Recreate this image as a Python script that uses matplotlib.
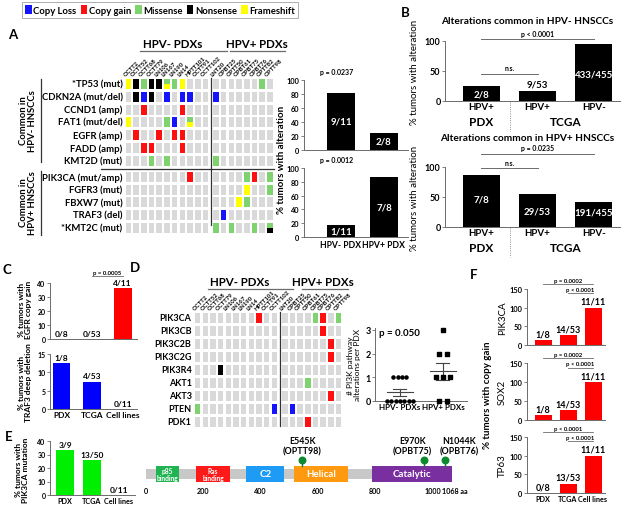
import matplotlib
matplotlib.use('Agg')
import matplotlib.pyplot as plt
import numpy as np
from matplotlib.patches import Rectangle, Patch

plt.rcParams['font.family'] = ['Lato', 'DejaVu Sans']
plt.rcParams['font.weight'] = 'bold'
plt.rcParams['axes.linewidth'] = 0.7
W, H = 625, 510

# ------------------------------------------------------------------ data
legend_labels = ["Copy Loss", "Copy gain", "Missense", "Nonsense", "Frameshift"]
legend_codes = ["L", "G", "M", "N", "F"]
code_colors = {'L': '#1414ff', 'G': '#ff1010', 'M': '#7ed36e', 'N': '#000000',
               'F': '#ffff00', '.': '#d9d9d9'}

hpvneg_pdx = ["OCTT2", "OCTT52", "OCTT68", "OCTT79", "LN106", "LN167", "LN190",
              "LN14", "HPTT101", "OCTT91", "OCTT102"]
hpvpos_pdx = ["LNT20", "OPBT25", "OPTT50", "OPBT61", "OPBT75", "OPBT76",
              "OPTT82", "OPTT98"]

genes_A = ["*TP53 (mut)", "CDKN2A (mut/del)", "CCND1 (amp)", "FAT1 (mut/del)",
           "EGFR (amp)", "FADD (amp)", "KMT2D (mut)", "PIK3CA (mut/amp)",
           "FGFR3 (mut)", "FBXW7 (mut)", "TRAF3 (del)", "*KMT2C (mut)"]
grid_A = [
    "F N M N N MF M F . . .  . . . . . . M .",
    ". N L N . L . L L . .  L . . . . . . .",
    ". . G . . . . G . . .  . . . . . . . .",
    "F . . . . M L . MF . .  . . . . . . . .",
    ". G . . G . G G . . .  . . . . . . . .",
    ". . G G . . . G . . .  . . . . . . . .",
    ". . . M . M . . . . .  M . . . . . . .",
    ". . . . . . . . G . .  . . . . M G . M",
    ". . . . . . . . . . .  . . . . F . . M",
    ". . . . . . . . . . .  . . . F M . . .",
    ". . . . . . . . . . .  . L . . . . . .",
    ". . . . . . . . . . .  M . M . . M . MN",
]

A_groups = ["HPV- PDX", "HPV+ PDX"]
A_top_vals = [81.8, 25.0]
A_top_labels = ["9/11", "2/8"]
A_top_p = "p = 0.0237"
A_bot_vals = [18.0, 87.5]
A_bot_labels = ["1/11", "7/8"]
A_bot_p = "p = 0.0012"

B_groups = ["HPV+", "HPV+", "HPV-"]
B_top_vals = [25.0, 17.0, 95.2]
B_top_labels = ["2/8", "9/53", "433/455"]
B_bot_vals = [87.5, 54.7, 42.0]
B_bot_labels = ["7/8", "29/53", "191/455"]

C_groups = ["PDX", "TCGA", "Cell lines"]
C_egfr_vals = [0.0, 0.0, 36.4]
C_egfr_labels = ["0/8", "0/53", "4/11"]
C_traf3_vals = [12.5, 7.5, 0.0]
C_traf3_labels = ["1/8", "4/53", "0/11"]

genes_D = ["PIK3CA", "PIK3CB", "PIK3C2B", "PIK3C2G", "PIK3R4", "AKT1", "AKT3",
           "PTEN", "PDK1"]
grid_D = [
    ". . . . . . . . G . .  . . . . M G . M",
    ". . . . . . . . . . .  . . . . . G . .",
    ". . . . . . . . . . .  . . . . . . G .",
    ". . . . . . . . . . .  . . . . . . G .",
    ". . . N . . . . . . .  . . . . . . . .",
    ". . . . . . . . . . .  . . . M . . . .",
    ". . . . . . . . . . .  . . . . . . G .",
    "M . . . . . . . . . L  . L . . . . . .",
    ". . . . . . . . . . .  . . . G . . . .",
]
D_groups = ["HPV- PDXs", "HPV+ PDXs"]
D_neg_counts = [1, 0, 0, 1, 0, 0, 0, 0, 1, 0, 1]
D_pos_counts = [0, 1, 0, 2, 1, 2, 3, 1]
D_p = "p = 0.050"

E_groups = ["PDX", "TCGA", "Cell lines"]
E_vals = [33.3, 26.0, 0.0]
E_labels = ["3/9", "13/50", "0/11"]

domain_names = ["p85\nbinding", "Ras\nbinding", "C2", "Helical", "Catalytic"]
domain_start = [35, 175, 350, 517, 790]
domain_end = [115, 293, 482, 705, 1068]
domain_colors = ['#1fb451', '#ff1a1a', '#1e9cf5', '#ff9a10', '#7a2fa0']
protein_len = 1068
mut_pos = [545, 970, 1044]
mut_labels = ["E545K\n(OPTT98)", "E970K\n(OPBT75)", "N1044K\n(OPBT76)"]
aa_ticks = [0, 200, 400, 600, 800, 1000]

F_groups = ["PDX", "TCGA", "Cell lines"]
F_genes = ["PIK3CA", "SOX2", "TP63"]
F_vals = [[12.5, 26.4, 100.0], [12.5, 26.4, 100.0], [0.0, 24.5, 100.0]]
F_labels = [["1/8", "14/53", "11/11"], ["1/8", "14/53", "11/11"],
            ["0/8", "13/53", "11/11"]]
F_p_outer = ["p = 0.0002", "p = 0.0002", "p < 0.0001"]
F_p_inner = ["p < 0.0001", "p < 0.0001", "p < 0.0001"]

# ------------------------------------------------------------------ helpers
fig = plt.figure(figsize=(W / 100, H / 100), dpi=100)
fig.patch.set_facecolor('white')


def rect(x0, y0, x1, y1):
    return [x0 / W, 1 - y1 / H, (x1 - x0) / W, (y1 - y0) / H]


ov = fig.add_axes([0, 0, 1, 1], zorder=10)
ov.set_xlim(0, W)
ov.set_ylim(H, 0)
ov.axis('off')
ov.patch.set_alpha(0)

LINE = '#6b6b6b'


def txt(x, y, s, **kw):
    kw.setdefault('ha', 'center')
    kw.setdefault('va', 'center')
    kw.setdefault('fontsize', 7)
    ov.text(x, y, s, **kw)


def bar_axes(px, xlim, ylim, yticks, tick_fs=5.3):
    ax = fig.add_axes(rect(*px))
    ax.set_xlim(*xlim)
    ax.set_ylim(*ylim)
    ax.set_yticks(yticks)
    for s in ['top', 'right']:
        ax.spines[s].set_visible(False)
    for s in ['left', 'bottom']:
        ax.spines[s].set_color(LINE)
    ax.tick_params(axis='both', labelsize=tick_fs, length=2, width=0.6,
                   color=LINE, pad=1.2)
    ax.patch.set_alpha(0)
    return ax


def draw_grid(ax, grid, colpos, rowpos, w=0.72, h=0.78):
    for r, rowstr in enumerate(grid):
        cells = rowstr.split()
        for c, code in enumerate(cells):
            x = colpos[c] - w / 2
            y = rowpos[r] - h / 2
            if len(code) == 1:
                ax.add_patch(Rectangle((x, y), w, h, facecolor=code_colors[code],
                                       edgecolor='none'))
            else:
                ax.add_patch(Rectangle((x, y), w, h / 2,
                                       facecolor=code_colors[code[0]], edgecolor='none'))
                ax.add_patch(Rectangle((x, y + h / 2), w, h / 2,
                                       facecolor=code_colors[code[1]], edgecolor='none'))


def grid_axes(x0, x1, y0, y1, c0px, du, r0px, dv):
    ax = fig.add_axes(rect(x0, y0, x1, y1))
    ax.set_xlim((x0 - c0px) / du, (x1 - c0px) / du)
    ax.set_ylim((y1 - r0px) / dv, (y0 - r0px) / dv)
    ax.axis('off')
    return ax


# ------------------------------------------------------------------ legend
handles = [Patch(facecolor=code_colors[c], edgecolor='none') for c in legend_codes]
leg = fig.legend(handles, legend_labels, ncol=5, loc='center',
                 bbox_to_anchor=(160 / W, 1 - 11 / H), fontsize=6.8,
                 handlelength=0.7, handleheight=1.1, handletextpad=0.15,
                 columnspacing=0.45, frameon=True, fancybox=False,
                 borderpad=0.35, borderaxespad=0)
leg.get_frame().set_edgecolor('#9a9a9a')
leg.get_frame().set_linewidth(0.7)

# ------------------------------------------------------------------ panel A grid
pdx_all = hpvneg_pdx + hpvpos_pdx
nneg = len(hpvneg_pdx)
colpos = [i + (0.35 if i >= nneg else 0) for i in range(len(pdx_all))]
rowposA = [r + (0.27 if r >= 7 else 0) for r in range(len(genes_A))]
axg = grid_axes(20, 290, 50, 240, 128.3, 7.72, 85, 12.78)
draw_grid(axg, grid_A, colpos, rowposA)
for r, g in enumerate(genes_A):
    axg.text(-0.75, rowposA[r], g, ha='right', va='center', fontsize=6.8)
for c, name in enumerate(pdx_all):
    axg.text(colpos[c] - 0.3, -0.55, name, rotation=45, ha='left', va='bottom',
             rotation_mode='anchor', fontsize=4.3)
sepx = (colpos[nneg - 1] + colpos[nneg]) / 2
axg.plot([sepx, sepx], [-0.45, rowposA[-1] - 0.2], color='#333', lw=0.9)
sepy = (rowposA[6] + rowposA[7]) / 2
axg.plot([-3.6, colpos[-1] + 0.5], [sepy, sepy], color='#333', lw=0.9)

txt(173, 45, "HPV- PDXs", fontsize=8.3)
ov.plot([140, 227], [52, 52], color=LINE, lw=0.9)
txt(257, 45, "HPV+ PDXs", fontsize=8.3)
ov.plot([230, 285], [52, 52], color=LINE, lw=0.9)
ov.plot([41, 41], [80, 163], color='#333', lw=0.9)
ov.plot([41, 41], [172, 236], color='#333', lw=0.9)
txt(28, 121, "Common in\nHPV- HNSCCs", rotation=90, fontsize=6.8, linespacing=1.1)
txt(28, 203, "Common in\nHPV+ HNSCCs", rotation=90, fontsize=6.8, linespacing=1.1)
txt(13, 35, "A", fontsize=9.5)

# ------------------------------------------------------------------ panel A bars
for px, vals, labs, ptxt, xlab in [((304, 81, 408, 151), A_top_vals, A_top_labels, A_top_p, False),
                                   ((304, 169, 408, 238), A_bot_vals, A_bot_labels, A_bot_p, True)]:
    ax = bar_axes(px, (-0.86, 1.56), (0, 100), [0, 20, 40, 60, 80, 100])
    x = np.arange(len(vals))
    ax.bar(x, vals, width=0.65, color='black')
    for xi, v, l in zip(x, vals, labs):
        ax.text(xi, v * 0.5, l, color='white', ha='center', va='center', fontsize=7)
    ax.set_xticks(x)
    if xlab:
        ax.set_xticklabels(A_groups, fontsize=6.2)
        ax.tick_params(axis='x', length=0, pad=2)
    else:
        ax.set_xticklabels([])
        ax.tick_params(axis='x', length=0)
    ax.text(-0.1, 1.12, ptxt, transform=ax.get_xaxis_transform(), ha='center',
            va='center', fontsize=5)
txt(281, 160, "% tumors with alteration", rotation=90, fontsize=7)

# ------------------------------------------------------------------ panel B
txt(405, 13, "B", fontsize=9.5)
for (px, vals, labs, title, ty, plong, pshort, labpos, lab_white, py_long, py_short) in [
        ((445, 42, 620, 102), B_top_vals, B_top_labels,
         "Alterations common in HPV- HNSCCs", 22, "p < 0.0001", "n.s.",
         [12, 28, 45], [True, False, True], 103, 45),
        ((445, 168, 620, 228), B_bot_vals, B_bot_labels,
         "Alterations common in HPV+ HNSCCs", 139, "p = 0.0235", "n.s.",
         [47, 27, 25], [True, True, True], 122, 98)]:
    ax = bar_axes(px, (-0.65, 2.47), (0, 100), [0, 50, 100], tick_fs=6.5)
    x = np.arange(len(vals))
    ax.bar(x, vals, width=0.66, color='black')
    for xi, l, yp, wh in zip(x, labs, labpos, lab_white):
        ax.text(xi, yp, l, color='white' if wh else 'black', ha='center',
                va='center', fontsize=7)
    ax.set_xticks(x)
    ax.set_xticklabels(B_groups, fontsize=7)
    ax.tick_params(axis='x', length=0, pad=1)
    ax.plot([x[0], x[2]], [py_long, py_long], color=LINE, lw=0.7, clip_on=False)
    ax.text((x[0] + x[2]) / 2, py_long + 10, plong, ha='center', va='center',
            fontsize=5)
    ax.plot([x[0], x[1]], [py_short, py_short], color=LINE, lw=0.7, clip_on=False)
    ax.text((x[0] + x[1]) / 2, py_short + 10, pshort, ha='center', va='center',
            fontsize=5)
    tr = ax.get_xaxis_transform()
    ax.plot([0.5, 0.5], [-0.02, -0.5], color=LINE, lw=0.6, ls=':',
            transform=tr, clip_on=False)
    ax.text(0, -0.35, "PDX", transform=tr, ha='center', va='center', fontsize=8.5)
    ax.text(1.5, -0.35, "TCGA", transform=tr, ha='center', va='center', fontsize=8.5)
    txt(527, ty, title, fontsize=7.3)
    ax.set_ylabel("% tumors with alteration", fontsize=7, labelpad=4)

# ------------------------------------------------------------------ panel C
txt(7, 270, "C", fontsize=9.5)
axc1 = bar_axes((50, 284, 137, 340), (-0.38, 2.47), (0, 40), [0, 10, 20, 30, 40], tick_fs=5)
x = np.arange(3)
axc1.bar(x, C_egfr_vals, width=0.58, color='#ff0000')
for xi, v, l in zip(x, C_egfr_vals, C_egfr_labels):
    axc1.text(xi, v + 1.5, l, ha='center', va='bottom', fontsize=6)
axc1.set_xticks(x)
axc1.set_xticklabels([])
axc1.tick_params(axis='x', length=0)
axc1.plot([1, 2], [45, 45], color=LINE, lw=0.6, clip_on=False)
axc1.text(1.5, 46, "p = 0.0005", ha='center', va='bottom', fontsize=4.3)

axc2 = bar_axes((50, 355, 137, 410), (-0.38, 2.47), (0, 15), [0, 5, 10, 15], tick_fs=5)
axc2.bar(x, C_traf3_vals, width=0.58, color='#0000ff')
for xi, v, l in zip(x, C_traf3_vals, C_traf3_labels):
    axc2.text(xi, v + 0.6, l, ha='center', va='bottom', fontsize=6)
axc2.set_xticks(x)
axc2.set_xticklabels(C_groups, fontsize=6)
axc2.tick_params(axis='x', length=0)
txt(25, 310, "% tumors with\nEGFR copy gain", rotation=90, fontsize=6, linespacing=1.05)
txt(25, 383, "% tumors with\nTRAF3 deep deletion", rotation=90, fontsize=6, linespacing=1.05)

# ------------------------------------------------------------------ panel D grid
txt(135, 268, "D", fontsize=9.5)
rowposD = list(range(len(genes_D)))
axd = grid_axes(140, 350, 290, 432, 197.7, 7.67, 319, 13.0)
draw_grid(axd, grid_D, colpos, rowposD, w=0.72, h=0.74)
for r, g in enumerate(genes_D):
    axd.text(-0.8, rowposD[r], g, ha='right', va='center', fontsize=6.5)
for c, name in enumerate(pdx_all):
    axd.text(colpos[c] - 0.3, -0.55, name, rotation=45, ha='left', va='bottom',
             rotation_mode='anchor', fontsize=4.3)
axd.plot([sepx, sepx], [-0.5, rowposD[-1] + 0.3], color='#333', lw=0.9)
txt(240, 283, "HPV- PDXs", fontsize=8.3)
ov.plot([208, 293], [290, 290], color=LINE, lw=0.9)
txt(323, 283, "HPV+ PDXs", fontsize=8.3)
ov.plot([302, 348], [290, 290], color=LINE, lw=0.9)

# ------------------------------------------------------------------ panel D scatter
axs = bar_axes((375, 328.6, 467, 402), (-0.58, 1.56), (0, 3.1), [0, 1, 2, 3], tick_fs=6.5)
for gi, (vals, mk) in enumerate([(D_neg_counts, 'o'), (D_pos_counts, 's')]):
    vals = np.array(vals)
    xs = np.zeros(len(vals), dtype=float)
    for v in np.unique(vals):
        idx = np.where(vals == v)[0]
        n = len(idx)
        xs[idx] = (np.arange(n) - (n - 1) / 2) * (0.1 if gi == 0 else 0.17)
    axs.scatter(gi + xs, vals, marker=mk, s=5, color='black', zorder=3, clip_on=False)
    m = vals.mean()
    sem = vals.std(ddof=1) / np.sqrt(len(vals))
    axs.plot([gi - 0.3, gi + 0.3], [m, m], color='#444', lw=0.8)
    axs.plot([gi, gi], [m - sem, m + sem], color='#444', lw=0.8)
    for yy in (m - sem, m + sem):
        axs.plot([gi - 0.15, gi + 0.15], [yy, yy], color='#444', lw=0.8)
axs.set_xticks([0, 1])
axs.set_xticklabels(D_groups, fontsize=5.8)
axs.tick_params(axis='x', length=0)
axs.text(0.0, 2.9, D_p, ha='center', va='center', fontsize=7)
axs.set_ylabel("# PI3K pathway\nalterations per PDX", fontsize=6, labelpad=3,
               linespacing=1.1)

# ------------------------------------------------------------------ panel E
txt(9, 437, "E", fontsize=9.5)
axe = bar_axes((50, 442, 135, 496), (-0.56, 2.6), (0, 40), [0, 10, 20, 30, 40], tick_fs=5)
axe.bar(x, E_vals, width=0.66, color='#00ee00')
for xi, v, l in zip(x, E_vals, E_labels):
    axe.text(xi, v + 1.5, l, ha='center', va='bottom', fontsize=6)
axe.set_xticks(x)
axe.set_xticklabels(E_groups, fontsize=5.2)
axe.tick_params(axis='x', length=0)
txt(22, 470, "% tumors with\nPIK3CA mutation", rotation=90, fontsize=6, linespacing=1.05)

# protein schematic
axp = fig.add_axes(rect(146, 430, 452, 500))
axp.set_xlim(0, protein_len)
axp.set_ylim(-2.5, 4.5)
axp.axis('off')
axp.add_patch(Rectangle((0, -0.5), protein_len, 1.0, facecolor='#c8c8c8',
                        edgecolor='none'))
for nm, s, e, col in zip(domain_names, domain_start, domain_end, domain_colors):
    axp.add_patch(Rectangle((s, -0.8), e - s, 1.6, facecolor=col, edgecolor='none'))
    fs = 4.8 if '\n' in nm else 7
    axp.text((s + e) / 2, 0, nm, color='white', ha='center', va='center',
             fontsize=fs, linespacing=0.9)
label_dx = [0, -40, 50]
for p, l, dx in zip(mut_pos, mut_labels, label_dx):
    axp.plot([p, p], [0.8, 1.4], color='#0b7a2a', lw=1)
    axp.scatter([p], [1.45], s=22, color='#0b8a2e', zorder=4, clip_on=False)
    axp.text(p + dx, 1.85, l, ha='center', va='bottom', fontsize=6.4, linespacing=1.25,
             clip_on=False)
for t in aa_ticks:
    axp.text(t, -1.3, str(t), ha='center', va='top', fontsize=5.2)
axp.text(protein_len - 34, -1.3, f"{protein_len} aa", ha='left', va='top', fontsize=5.2)

# ------------------------------------------------------------------ panel F
txt(474, 275, "F", fontsize=9.5)
F_px = [(527, 290, 605, 346), (527, 364, 605, 421), (527, 438, 605, 494)]
for k in range(3):
    ax = bar_axes(F_px[k], (-0.64, 2.48), (0, 150), [0, 50, 100, 150])
    ax.bar(x, F_vals[k], width=0.68, color='#ff0000')
    for xi, v, l in zip(x, F_vals[k], F_labels[k]):
        ax.text(xi, v + 5, l, ha='center', va='bottom', fontsize=6.5)
    ax.set_xticks(x)
    if k == 2:
        ax.set_xticklabels(F_groups, fontsize=5.2)
    else:
        ax.set_xticklabels([])
    ax.tick_params(axis='x', length=0)
    ax.plot([0, 2], [164, 164], color=LINE, lw=0.6, clip_on=False)
    ax.text(1, 167, F_p_outer[k], ha='center', va='bottom', fontsize=4.3)
    ax.plot([1, 2], [138, 138], color=LINE, lw=0.6, clip_on=False)
    ax.text(1.5, 141, F_p_inner[k], ha='center', va='bottom', fontsize=4.3)
    ax.set_ylabel(F_genes[k], fontsize=7, labelpad=2)
txt(487, 395, "% tumors with copy gain", rotation=90, fontsize=7)

fig.savefig('out.png', dpi=100, facecolor='white')
